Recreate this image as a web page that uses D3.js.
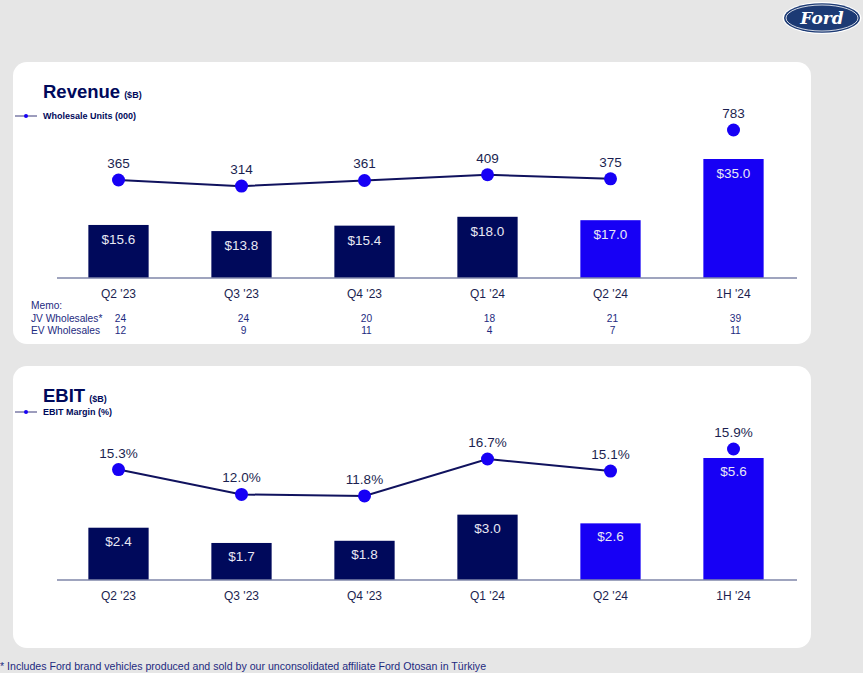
<!DOCTYPE html>
<html><head><meta charset="utf-8">
<script src="https://cdn.jsdelivr.net/npm/d3@7"></script>
<style>
html,body{margin:0;padding:0;background:#e6e6e6;}
svg{display:block;font-family:"Liberation Sans",Arial,sans-serif;}
</style></head>
<body>
<svg id="c" width="863" height="673"></svg>
<script>
const categories = ["Q2 '23","Q3 '23","Q4 '23","Q1 '24","Q2 '24","1H '24"];
const revenue = [15.6, 13.8, 15.4, 18.0, 17.0, 35.0];
const wholesaleUnits = [365, 314, 361, 409, 375, 783];
const ebit = [2.4, 1.7, 1.8, 3.0, 2.6, 5.6];
const ebitMargin = [15.3, 12.0, 11.8, 16.7, 15.1, 15.9];
const jvWholesales = [24, 24, 20, 18, 21, 39];
const evWholesales = [12, 9, 11, 4, 7, 11];
const highlighted = ["Q2 '24","1H '24"];

const NAVY = "#00095b", BLUE = "#1700f5", TXT = "#1b1f50";
const svg = d3.select("#c");

// panels
[[62,344],[366,648]].forEach(([t,b])=>{
  svg.append("rect").attr("x",13).attr("y",t).attr("width",798).attr("height",b-t)
    .attr("rx",14).attr("fill","#ffffff");
});

// Ford logo
const logo = svg.append("g").attr("transform","translate(822,18)");
logo.append("ellipse").attr("rx",39.5).attr("ry",16).attr("fill","#fff");
logo.append("ellipse").attr("rx",38).attr("ry",14.8).attr("fill","#1c3a74");
logo.append("ellipse").attr("rx",36).attr("ry",13).attr("fill","none").attr("stroke","#fff").attr("stroke-width",0.8);
logo.append("text").attr("y",6).attr("text-anchor","middle").attr("fill","#fff")
  .attr("font-family","'DejaVu Serif',serif").attr("font-style","italic").attr("font-weight","bold")
  .attr("font-size",17).text("Ford");

const x = d3.scaleBand().domain(categories).range([57,795]).paddingInner(0.51).paddingOuter(0.255);

function panel(opts){
  const g = svg.append("g");
  // title
  const t = g.append("text").attr("x",43).attr("y",opts.titleY).attr("fill",NAVY).attr("font-weight","bold");
  t.append("tspan").attr("font-size",18.5).text(opts.title);
  t.append("tspan").attr("font-size",9).attr("dx",4).text("($B)");
  // legend
  g.append("line").attr("x1",15).attr("x2",37).attr("y1",opts.legY).attr("y2",opts.legY).attr("stroke","#3a3a7a").attr("stroke-width",1);
  g.append("circle").attr("cx",26).attr("cy",opts.legY).attr("r",2).attr("fill",BLUE);
  g.append("text").attr("x",43).attr("y",opts.legY+3).attr("font-size",9).attr("font-weight","bold").attr("fill",NAVY).text(opts.legend);

  const y = d3.scaleLinear().domain([0,opts.barMax]).range([opts.base, opts.base-opts.barPx]);
  const yl = d3.scaleLinear().domain(opts.lineDomain).range(opts.lineRange);

  // bars
  g.selectAll("rect.bar").data(categories).join("rect").attr("class","bar")
    .attr("x",d=>x(d)).attr("width",x.bandwidth())
    .attr("y",(d,i)=>y(opts.bars[i])).attr("height",(d,i)=>opts.base-y(opts.bars[i]))
    .attr("fill",d=>highlighted.includes(d)?BLUE:NAVY);
  g.selectAll("text.bl").data(categories).join("text").attr("class","bl")
    .attr("x",d=>x(d)+x.bandwidth()/2).attr("y",(d,i)=>y(opts.bars[i])+opts.barLabelDy)
    .attr("text-anchor","middle").attr("font-size",13.5).attr("fill","#e8e8f4")
    .text((d,i)=>"$"+opts.bars[i].toFixed(1));

  // axis
  g.append("line").attr("x1",57).attr("x2",797).attr("y1",opts.base).attr("y2",opts.base).attr("stroke","#7f86a8").attr("stroke-width",1.5);
  g.selectAll("text.xl").data(categories).join("text").attr("class","xl")
    .attr("x",d=>x(d)+x.bandwidth()/2).attr("y",opts.base+20).attr("text-anchor","middle")
    .attr("font-size",12).attr("fill",TXT).text(d=>d);

  // line points
  const pts = categories.map((c,i)=>{
    let py = yl(opts.line[i]);
    if(i===categories.length-1) py = Math.min(py, y(opts.bars[i])-9);
    return {cx:x(c)+x.bandwidth()/2, cy:py, v:opts.line[i]};
  });
  g.append("path").datum(pts.slice(0,5))
    .attr("d",d3.line().x(d=>d.cx).y(d=>d.cy))
    .attr("fill","none").attr("stroke","#10125e").attr("stroke-width",2);
  g.selectAll("circle.pt").data(pts).join("circle").attr("class","pt")
    .attr("cx",d=>d.cx).attr("cy",d=>d.cy).attr("r",6.5).attr("fill",BLUE);
  g.selectAll("text.pl").data(pts).join("text").attr("class","pl")
    .attr("x",d=>d.cx).attr("y",d=>d.cy-12).attr("text-anchor","middle")
    .attr("font-size",13.5).attr("fill",TXT).text(d=>opts.fmt(d.v));
  return g;
}

panel({title:"Revenue", titleY:98, legY:116, legend:"Wholesale Units (000)",
  bars:revenue, barMax:35, base:278, barPx:119, barLabelDy:19,
  line:wholesaleUnits, lineDomain:[0,783], lineRange:[223.7,130], fmt:v=>String(v)});

panel({title:"EBIT", titleY:402, legY:412, legend:"EBIT Margin (%)",
  bars:ebit, barMax:5.6, base:580, barPx:122, barLabelDy:18,
  line:ebitMargin, lineDomain:[0,16.7], lineRange:[585,459], fmt:v=>v.toFixed(1)+"%"});

// memo
const memo = svg.append("g").attr("font-size",10.2).attr("fill","#1d2a80");
memo.append("text").attr("x",31).attr("y",309).text("Memo:");
memo.append("text").attr("x",31).attr("y",322).text("JV Wholesales*");
memo.append("text").attr("x",31).attr("y",334).text("EV Wholesales");
memo.selectAll("text.jv").data(categories).join("text").attr("class","jv")
  .attr("x",d=>x(d)+x.bandwidth()/2+2).attr("y",322).attr("text-anchor","middle").text((d,i)=>jvWholesales[i]);
memo.selectAll("text.ev").data(categories).join("text").attr("class","ev")
  .attr("x",d=>x(d)+x.bandwidth()/2+2).attr("y",334).attr("text-anchor","middle").text((d,i)=>evWholesales[i]);

// footnote
svg.append("text").attr("x",0).attr("y",670).attr("font-size",10.6).attr("fill","#1d2a80")
  .text("* Includes Ford brand vehicles produced and sold by our unconsolidated affiliate Ford Otosan in Türkiye");
</script>
</body></html>
